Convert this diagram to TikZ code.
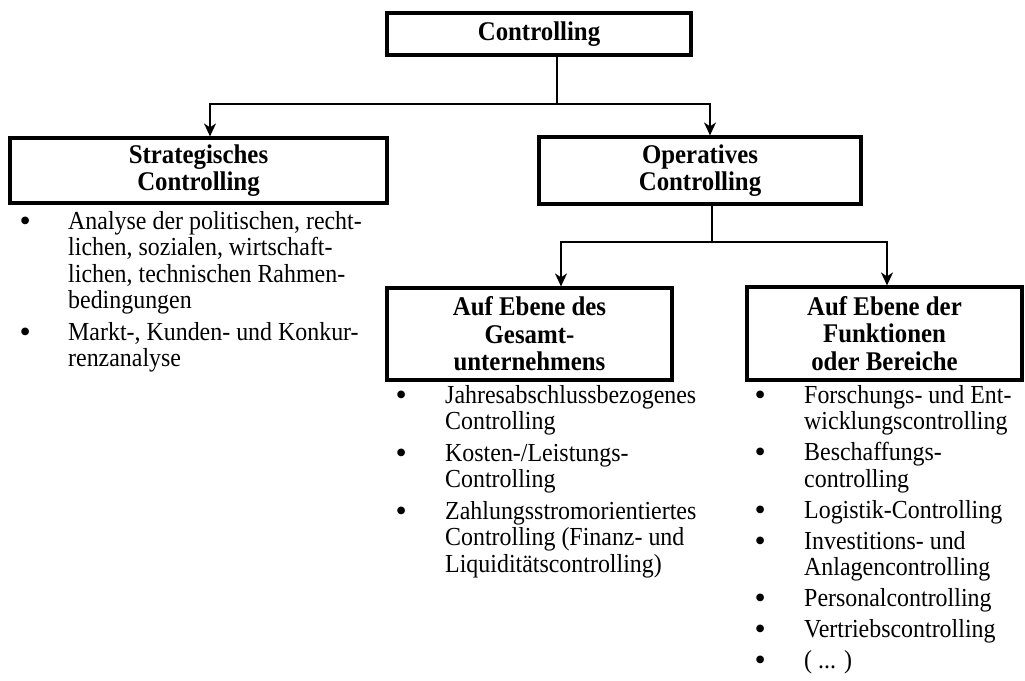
\documentclass[tikz,border=0pt]{standalone}
\usepackage{fontspec}
\setmainfont[FakeStretch=0.92]{Liberation Serif}
\newfontfamily\plainserif{Liberation Serif}
\newcommand\bul{\raisebox{-2pt}{\plainserif\fontsize{32}{32}\selectfont\textbullet}}
\usetikzlibrary{arrows.meta}
\begin{document}
\begin{tikzpicture}[x=1pt,y=-1pt,
  box/.style={draw, line width=3.2pt, inner sep=0pt, align=center, font=\fontsize{27}{27.5}\selectfont\bfseries},
  conn/.style={line width=1.6pt},
  arr/.style={conn, -{Stealth[length=13pt,width=12pt,inset=4pt]}},
  blist/.style={anchor=base west, inner sep=0pt, font=\fontsize{26}{26.5}\selectfont}]
\useasboundingbox (0,0) rectangle (1025,680);

% boxes
\node[box, minimum width=304pt, minimum height=42pt] (ctrl) at (539,34) {Controlling};
\node[box, minimum width=377pt, minimum height=65pt] (strat) at (198.5,170.5) {Strategisches\\Controlling};
\node[box, minimum width=322pt, minimum height=67pt] (oper) at (700,170.5) {Operatives\\Controlling};
\node[box, minimum width=285pt, minimum height=92pt] (ges) at (529.5,334) {Auf Ebene des\\Gesamt-\\unternehmens};
\node[box, minimum width=275pt, minimum height=93pt] (funk) at (884.5,333.5) {Auf Ebene der\\Funktionen\\oder Bereiche};

% junctions
\coordinate (j1) at (557,104);
\coordinate (jl) at (210,104);
\coordinate (jr) at (710,104);
\coordinate (k1) at (712,242);
\coordinate (kl) at (561,242);
\coordinate (kr) at (887,242);

% connectors
\draw[conn] (ctrl.south -| j1) -- (j1);
\draw[arr] (j1) -- (jl) -- (jl |- strat.north);
\draw[arr] (j1) -- (jr) -- (jr |- oper.north);
\draw[conn] (oper.south -| k1) -- (k1);
\draw[arr] (k1) -- (kl) -- (kl |- ges.north);
\draw[arr] (k1) -- (kr) -- (kr |- funk.north);

% lists
\node[blist] (l1) at (19.5,229) {\begin{tabular}[t]{@{}p{48.5pt}@{}l@{}}
\bul & Analyse der politischen, recht-\\
 & lichen, sozialen, wirtschaft-\\
 & lichen, technischen Rahmen-\\
 & bedingungen\\[5pt]
\bul & Markt-, Kunden- und Konkur-\\
 & renzanalyse
\end{tabular}};

\node[blist] (l2) at (395.5,403) {\begin{tabular}[t]{@{}p{49.5pt}@{}l@{}}
\bul & Jahresabschlussbezogenes\\
 & Controlling\\[5pt]
\bul & Kosten-/Leistungs-\\
 & Controlling\\[5pt]
\bul & Zahlungsstromorientiertes\\
 & Controlling (Finanz- und\\
 & Liquiditätscontrolling)
\end{tabular}};

\node[blist] (l3) at (754.5,403) {\begin{tabular}[t]{@{}p{49.5pt}@{}l@{}}
\bul & Forschungs- und Ent-\\
 & wicklungscontrolling\\[4.5pt]
\bul & Beschaffungs-\\
 & controlling\\[4.5pt]
\bul & Logistik-Controlling\\[4.5pt]
\bul & Investitions- und\\
 & Anlagencontrolling\\[4.5pt]
\bul & Personalcontrolling\\[4.5pt]
\bul & Vertriebscontrolling\\[4.5pt]
\bul & ( ... )
\end{tabular}};
\end{tikzpicture}
\end{document}
